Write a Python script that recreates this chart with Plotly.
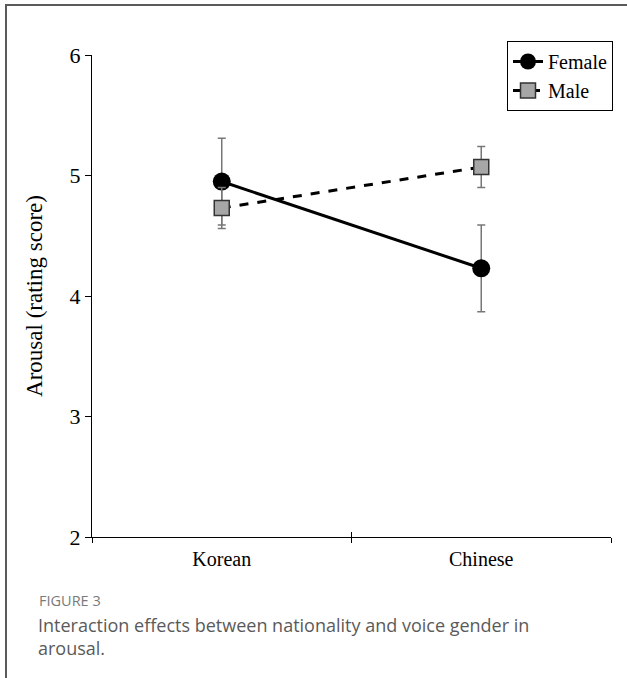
import plotly.graph_objects as go

categories = ["Korean", "Chinese"]
female_mean = [4.95, 4.23]
female_err = [0.36, 0.36]
male_mean = [4.73, 5.07]
male_err = [0.17, 0.17]
y_ticks = [2, 3, 4, 5, 6]

SERIF = "Liberation Serif, Times New Roman, serif"

fig = go.Figure()
fig.add_trace(go.Scatter(
    x=categories, y=female_mean, name="Female", mode="lines+markers",
    line=dict(color="black", width=3),
    marker=dict(symbol="circle", size=18, color="black"),
    error_y=dict(type="data", array=female_err, color="#777777", thickness=1.5, width=4),
))
fig.add_trace(go.Scatter(
    x=categories, y=male_mean, name="Male", mode="lines+markers",
    line=dict(color="black", width=3, dash="dash"),
    marker=dict(symbol="square", size=15, color="#a6a6a6", line=dict(color="#333333", width=1.5)),
    error_y=dict(type="data", array=male_err, color="#777777", thickness=1.5, width=4),
))

W, H = 627, 678
L, R, T, B = 92, 16, 55, 141
pw, ph = W - L - R, H - T - B

def px(x):
    return (x - L) / pw

def py(y):
    return (H - B - y) / ph

fig.update_layout(
    width=W, height=H,
    margin=dict(l=L, r=R, t=T, b=B),
    paper_bgcolor="white", plot_bgcolor="white",
    showlegend=True,
    legend=dict(x=px(507), y=py(41), xanchor="left", yanchor="top",
                bordercolor="black", borderwidth=1, bgcolor="white",
                font=dict(family=SERIF, size=20, color="black"),
                tracegroupgap=0, itemwidth=30),
    xaxis=dict(type="category", categoryorder="array", categoryarray=categories,
               range=[-0.5, 1.5], tickson="boundaries", ticks="outside", ticklen=5,
               tickcolor="black", showline=True, linecolor="black", linewidth=1.2,
               showgrid=False, zeroline=False, ticklabelstandoff=4,
               tickfont=dict(family=SERIF, size=20, color="black")),
    xaxis2=dict(type="category", categoryorder="array", categoryarray=categories,
                range=[-0.5, 1.5], tickson="boundaries", ticks="inside", ticklen=5,
                tickcolor="black", showline=False, showgrid=False, zeroline=False,
                showticklabels=False, overlaying="x", side="bottom", matches="x"),
    yaxis=dict(range=[2, 6], tickvals=y_ticks, ticks="outside", ticklen=6,
               tickcolor="black", showline=True, linecolor="black", linewidth=1.2,
               showgrid=False, zeroline=False,
               tickfont=dict(family=SERIF, size=22, color="black"),
               title=dict(text="Arousal (rating score)", standoff=20,
                          font=dict(family=SERIF, size=23, color="black"))),
    shapes=[
        dict(type="line", xref="paper", yref="paper", x0=px(5), x1=px(640), y0=py(5), y1=py(5),
             line=dict(color="#5a5a5a", width=2), layer="above"),
        dict(type="line", xref="paper", yref="paper", x0=px(6), x1=px(6), y0=py(4), y1=py(700),
             line=dict(color="#5a5a5a", width=2), layer="above"),
    ],
    annotations=[
        dict(text="FIGURE 3", xref="paper", yref="paper", x=px(37), y=py(600),
             xanchor="left", yanchor="middle", showarrow=False,
             font=dict(family="Open Sans", size=14.5, color="#7a7a7a")),
        dict(text="Interaction effects between nationality and voice gender in", xref="paper", yref="paper",
             x=px(36), y=py(625), xanchor="left", yanchor="middle", showarrow=False,
             font=dict(family="Open Sans", size=18, color="#5a5a5a")),
        dict(text="arousal.", xref="paper", yref="paper",
             x=px(36), y=py(648), xanchor="left", yanchor="middle", showarrow=False,
             font=dict(family="Open Sans", size=18, color="#5a5a5a")),
    ],
)
# invisible helper trace so the overlaid tick axis renders
fig.add_trace(go.Scatter(x=categories, y=[None, None], xaxis="x2", yaxis="y",
                         showlegend=False, hoverinfo="skip", mode="lines"))

fig.write_html("out.html", config={"displayModeBar": False},
               post_script="document.body.style.margin='0';document.body.style.overflow='hidden';")
